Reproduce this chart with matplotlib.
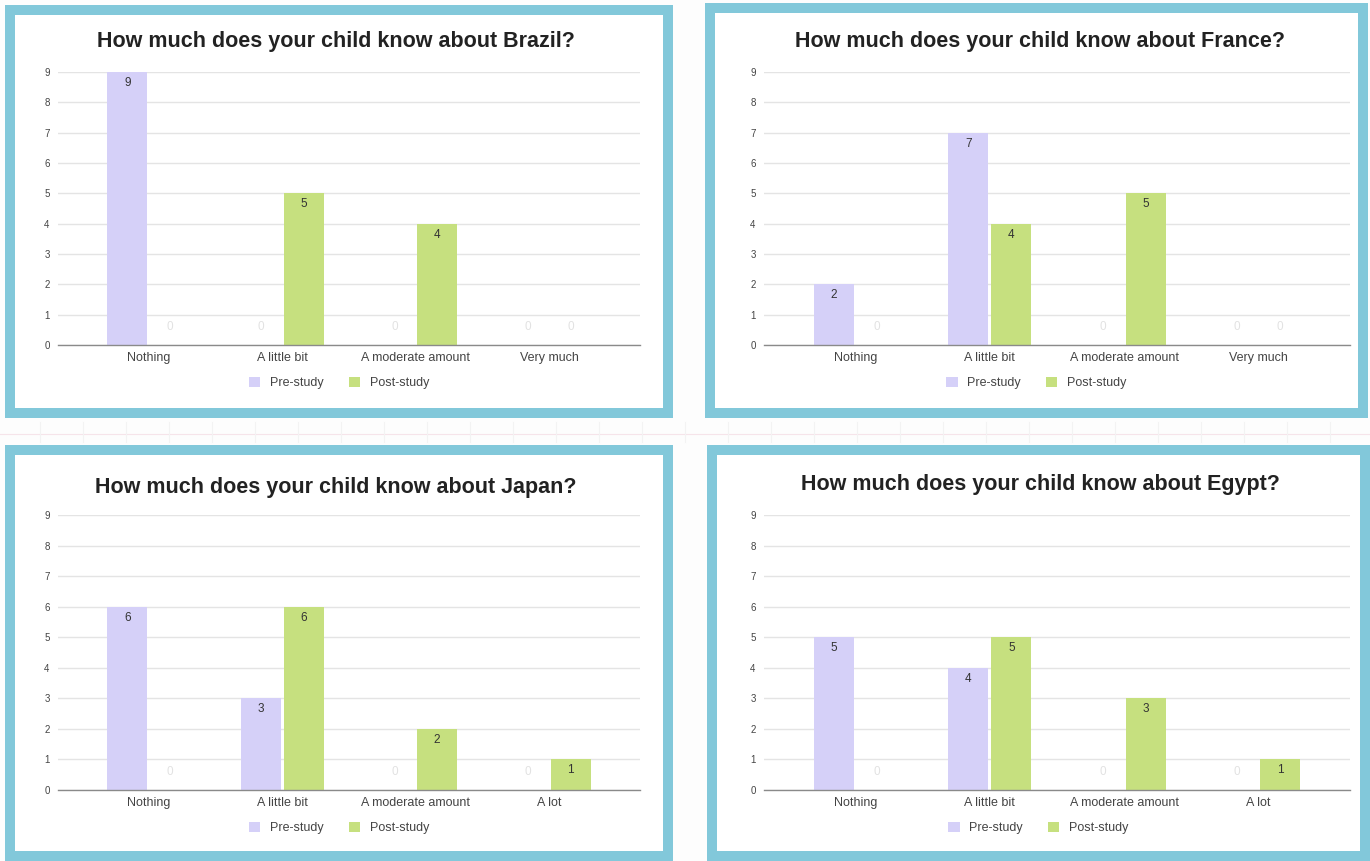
import matplotlib
matplotlib.use("Agg")
import matplotlib.pyplot as plt
from matplotlib.patches import Rectangle, Patch
import numpy as np

plt.rcParams['font.family'] = ['Liberation Sans', 'DejaVu Sans']

# data
titles = ["How much does your child know about Brazil?",
          "How much does your child know about France?",
          "How much does your child know about Japan?",
          "How much does your child know about Egypt?"]
cats_top = ["Nothing", "A little bit", "A moderate amount", "Very much"]
cats_bottom = ["Nothing", "A little bit", "A moderate amount", "A lot"]
brazil_pre = [9, 0, 0, 0]
brazil_post = [0, 5, 4, 0]
france_pre = [2, 7, 0, 0]
france_post = [0, 4, 5, 0]
japan_pre = [6, 3, 0, 0]
japan_post = [0, 6, 2, 1]
egypt_pre = [5, 4, 0, 0]
egypt_post = [0, 5, 3, 1]
series_names = ["Pre-study", "Post-study"]

PRE_C = '#d5d0f8'
POST_C = '#c6e07f'
BORDER_C = '#82c8da'

W, H = 1370, 861
fig = plt.figure(figsize=(W/100, H/100), dpi=100)
fig.patch.set_facecolor('#fdfdfd')

def fx(px):
    return px / W

def fy(py):
    return 1 - py / H

# faint spreadsheet lines in the gaps
fig.add_artist(plt.Line2D([0, 1], [fy(434), fy(434)], color='#f6e4ea', lw=0.8))
for gx in np.arange(40, W, 43):
    fig.add_artist(plt.Line2D([fx(gx), fx(gx)], [fy(422), fy(442)], color='#f3f3f3', lw=0.8))

# panels: (left, top, right, bottom) outer box in px
panels = [(5, 5, 673, 418), (705, 3, 1368, 418), (5, 445, 673, 861), (707, 445, 1370, 861)]
# axes: (left, top, right, bottom) in px
axes_px = [(58, 72, 640, 345), (764, 72, 1350, 345), (58, 515, 640, 790), (764, 515, 1350, 790)]
title_px = [(336, 42), (1040, 42), (336, 488), (1040, 484)]
legend_py = [383, 383, 828, 828]

charts = [(cats_top, brazil_pre, brazil_post),
          (cats_top, france_pre, france_post),
          (cats_bottom, japan_pre, japan_post),
          (cats_bottom, egypt_pre, egypt_post)]

bt = 10
for i, (l, t, r, b) in enumerate(panels):
    fig.add_artist(Rectangle((fx(l), fy(b)), fx(r) - fx(l), fy(t) - fy(b),
                             transform=fig.transFigure, facecolor=BORDER_C, edgecolor='none', zorder=0))
    fig.add_artist(Rectangle((fx(l + bt), fy(b - bt)), fx(r - bt) - fx(l + bt), fy(t + bt) - fy(b - bt),
                             transform=fig.transFigure, facecolor='white', edgecolor='none', zorder=0))

for i, (cats, pre, post) in enumerate(charts):
    l, t, r, b = axes_px[i]
    ax = fig.add_axes([fx(l), fy(b), fx(r) - fx(l), fy(t) - fy(b)])
    ax.set_facecolor('none')
    x = np.arange(len(cats))
    w = 0.30
    off = 0.16
    ax.bar(x - off, pre, w, color=PRE_C, zorder=2)
    ax.bar(x + off, post, w, color=POST_C, zorder=2)
    for xs, vals in ((x - off, pre), (x + off, post)):
        for xi, v in zip(xs, vals):
            if v > 0:
                ax.text(xi, v - 0.36, str(v), ha='center', va='center', fontsize=8.5,
                        color='#333333', zorder=3)
            else:
                ax.text(xi, 0.6, str(v), ha='center', va='center', fontsize=8.5,
                        color='#e2e2e2', zorder=3)
    ax.set_xlim(-0.68, 3.68)
    ax.set_ylim(0, 9)
    ax.set_yticks(range(0, 10))
    ax.set_xticks(x)
    ax.set_xticklabels(cats)
    ax.tick_params(axis='both', length=0, colors='#444444')
    ax.tick_params(axis='y', labelsize=7, pad=6)
    ax.tick_params(axis='x', labelsize=9, pad=5)
    ax.grid(axis='y', color='#e4e4e4', lw=1, zorder=0)
    for s in ['top', 'right', 'left']:
        ax.spines[s].set_visible(False)
    ax.spines['bottom'].set_color('#8a8a8a')
    ax.spines['bottom'].set_linewidth(1)
    ax.spines['bottom'].set_zorder(2.5)

    tx, ty = title_px[i]
    fig.text(fx(tx), fy(ty), titles[i], ha='center', va='center', fontsize=15.5,
             fontweight='bold', color='#222222')

    handles = [Patch(facecolor=PRE_C), Patch(facecolor=POST_C)]
    pl, pt, pr, pb = panels[i]
    ax.legend(handles, series_names, loc='center', ncol=2, frameon=False,
              bbox_to_anchor=(fx((pl + pr) / 2), fy(legend_py[i])), bbox_transform=fig.transFigure,
              fontsize=9, handlelength=0.9, handleheight=0.9, handletextpad=0.8,
              columnspacing=2.0, labelcolor='#444444')

fig.savefig('out.png', dpi=100)
